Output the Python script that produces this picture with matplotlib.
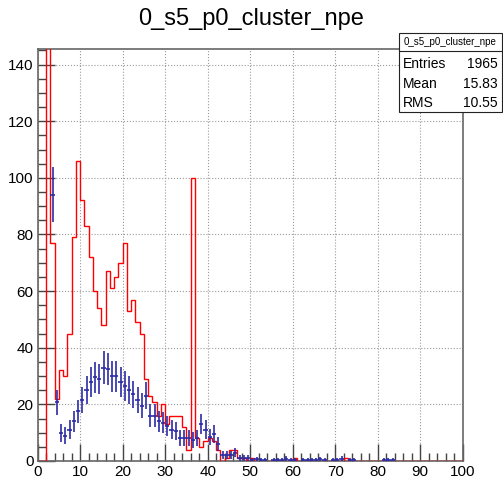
import numpy as np
import matplotlib.pyplot as plt
from matplotlib.patches import Rectangle
from matplotlib.lines import Line2D
from matplotlib.ticker import MultipleLocator

plt.rcParams['font.family'] = ['Liberation Sans', 'DejaVu Sans']

# 100 bins of width 1 between 0 and 100
bin_edges = np.arange(0, 101, 1)

# red histogram (the one with the stats box)
red_counts = [
    0, 0, 284, 77, 22, 32, 30, 45, 79, 106,
    92, 83, 72, 60, 54, 48, 67, 61, 65, 70,
    77, 53, 57, 49, 45, 29, 23, 21, 16, 20,
    13, 16, 16, 16, 12, 4, 100, 8, 5, 7,
    8, 7, 4, 0, 1, 4, 4, 1, 1, 0,
    1, 0, 0, 0, 0, 0, 0, 0, 0, 0,
    1, 0, 0, 0, 0, 0, 0, 0, 0, 0,
    0, 0, 1, 0, 0, 0, 0, 0, 0, 0,
    0, 0, 0, 0, 0, 0, 0, 0, 0, 0,
    0, 0, 0, 0, 0, 0, 0, 0, 0, 0,
]

# blue histogram drawn with error bars
blue_counts = [
    0, 0, 0, 94, 20.7, 10, 9, 11, 14, 17.5,
    21.5, 25, 28, 29.5, 29, 33, 32.5, 30, 30, 28,
    26.5, 25, 23.5, 21.5, 19.5, 23, 16, 16, 14, 13.5,
    12.5, 11, 10.5, 8, 8, 8, 7.5, 8, 13, 11,
    8.5, 9.5, 6, 2, 2, 2, 3, 1, 1, 1,
    0.4, 0.6, 0.4, 0.4, 0, 0.4, 0.4, 0.4, 0.8, 0.4,
    0.4, 0, 0.4, 0.4, 0.4, 0.4, 0.6, 0.4, 0, 0.4,
    0.4, 0.8, 0, 0.4, 0.4, 0, 0, 0, 0, 0,
    0, 0.4, 0.4, 0.4, 0, 0, 0, 0, 0, 0,
    0, 0, 0, 0, 0, 0, 0, 0, 0, 0,
]

hist_title = "0_s5_p0_cluster_npe"
stats_rows = [("Entries", "1965"), ("Mean", "15.83"), ("RMS", "10.55")]

W, H = 503, 480
fig = plt.figure(figsize=(W / 100, H / 100), dpi=100)
fig.patch.set_facecolor("white")

# axes frame in pixels: x 37.7..462.7, y 49..461
ax = fig.add_axes([37.7 / W, 19 / H, 425 / W, 412 / H])

ax.stairs(red_counts, bin_edges, color="#ff0000", lw=1.0, baseline=0, zorder=3)

centers = bin_edges[:-1] + 0.5
blue = np.array(blue_counts, dtype=float)
keep = blue > 0
ax.errorbar(centers[keep], blue[keep], yerr=np.sqrt(blue[keep]), xerr=0.5,
            fmt="none", ecolor="#2b2ba5", elinewidth=1.2, capsize=0, zorder=4)

ax.set_xlim(0, 100)
ax.set_ylim(0, 145.5)
ax.xaxis.set_major_locator(MultipleLocator(10))
ax.xaxis.set_minor_locator(MultipleLocator(2))
ax.yaxis.set_major_locator(MultipleLocator(20))
ax.yaxis.set_minor_locator(MultipleLocator(5))
ax.tick_params(which="major", direction="in", length=12, width=1, color="#444444",
               labelsize=11, pad=3)
ax.tick_params(which="minor", direction="in", length=6, width=1, color="#444444")
ax.grid(True, which="major", ls=":", color="#999999", lw=0.8)
ax.set_axisbelow(True)
for s in ax.spines.values():
    s.set_color("#666666")
    s.set_linewidth(1.2)

fig.text(0.5, 1 - 19 / H, hist_title, ha="center", va="center", fontsize=17)

# stats box (ROOT style), pixel coords converted to figure fraction
bx0, bx1, by0, by1 = 399, 502, 33, 112
fig.add_artist(Rectangle((bx0 / W, 1 - by1 / H), (bx1 - bx0) / W, (by1 - by0) / H,
                         transform=fig.transFigure, fc="white", ec="#222222", lw=0.8, zorder=5))
fig.add_artist(Line2D([bx0 / W, bx1 / W], [1 - 51 / H, 1 - 51 / H],
                      transform=fig.transFigure, color="#222222", lw=0.8, zorder=6))
fig.text((bx0 + bx1) / 2 / W, 1 - 42 / H, hist_title, ha="center", va="center",
         fontsize=7, zorder=7)
for i, (name, val) in enumerate(stats_rows):
    yy = 1 - (64 + 19.5 * i) / H
    fig.text(403 / W, yy, name, ha="left", va="center", fontsize=10, zorder=7)
    fig.text(498 / W, yy, val, ha="right", va="center", fontsize=10, zorder=7)

fig.savefig("out.png", dpi=100, facecolor="white")
